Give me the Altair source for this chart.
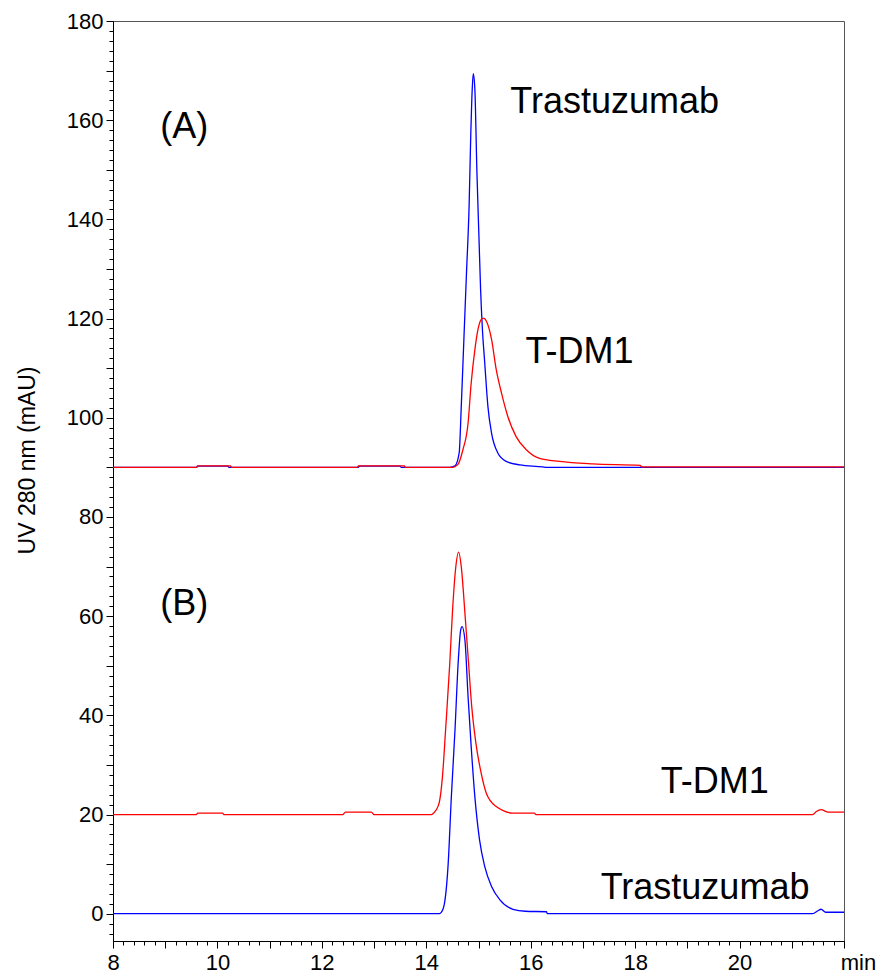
import altair as alt
import pandas as pd

# ---- data ----
a_tras_t = [8.0, 9.6, 9.62, 10.2, 10.22, 12.7, 12.72, 13.5, 13.52, 14.45, 14.55, 14.63, 14.67, 14.72, 14.77,
            14.82, 14.85, 14.88, 14.9, 14.93, 14.97, 15.01, 15.04, 15.075, 15.12, 15.18, 15.25, 15.37, 15.53,
            15.79, 16.23, 16.3, 22.0]
a_tras_v = [90, 90, 90.25, 90.25, 90, 90, 90.25, 90.25, 90, 90, 90.3, 92.9, 102.3, 115.8, 129.2,
            142.7, 156.2, 166.3, 169.4, 166.3, 149.4, 136, 125.9, 117.8, 111, 102.3, 96.9, 92.9, 91.2,
            90.5, 90.1, 90, 90]

a_tdm1_t = [8.0, 9.6, 9.62, 10.25, 10.27, 12.68, 12.7, 13.58, 13.6, 14.5, 14.6, 14.7, 14.8, 14.86, 14.93,
            14.99, 15.05, 15.1, 15.15, 15.25, 15.34, 15.44, 15.56, 15.72, 15.92, 16.17, 16.55, 17.19, 18.1,
            18.12, 22.0]
a_tdm1_v = [90, 90, 90.3, 90.3, 90, 90, 90.3, 90.3, 90, 90, 90.5, 93.5, 98.9, 107, 113.7,
            117.8, 119.8, 120.1, 119.5, 115.8, 109.7, 105, 100.3, 96.2, 93.5, 91.8, 91.2, 90.7, 90.4,
            90.1, 90.1]

b_tdm1_t = [8.0, 9.6, 9.62, 10.1, 10.12, 12.4, 12.45, 12.95, 13.0, 14.1, 14.13, 14.24, 14.31, 14.37, 14.45,
            14.5, 14.56, 14.62, 14.67, 14.74, 14.8, 14.87, 14.95, 15.05, 15.15, 15.34, 15.66, 16.07, 16.1,
            21.4, 21.47, 21.56, 21.7, 22.0]
b_tdm1_v = [20, 20, 20.3, 20.3, 20, 20, 20.5, 20.5, 20, 20, 20.2, 22.1, 27.7, 37.1, 50.5,
            60.6, 69.4, 72.9, 70, 60.6, 51.9, 41.8, 34.4, 28.4, 24.3, 21.6, 20.3, 20.3, 20,
            20, 20.6, 21.0, 20.5, 20.5]

b_tras_t = [8.0, 14.25, 14.29, 14.35, 14.42, 14.48, 14.55, 14.61, 14.66, 14.685, 14.74, 14.8, 14.86, 14.93,
            15.02, 15.12, 15.25, 15.41, 15.66, 15.9, 16.3, 16.32, 21.4, 21.5, 21.56, 21.65, 22.0]
b_tras_v = [0, 0, 0.3, 2.2, 10.2, 23.6, 37.1, 50.5, 57.3, 57.9, 55.2, 43.8, 33.7, 23.6,
            14.9, 9.5, 5.5, 2.8, 0.9, 0.5, 0.4, 0, 0, 0.6, 0.9, 0.3, 0.3]

label_text = ["(A)", "Trastuzumab", "T-DM1", "(B)", "T-DM1", "Trastuzumab"]
label_x = [8.906, 15.61, 15.90, 8.906, 18.49, 17.34]
label_y = [158.7, 163.7, 113.3, 62.5, 26.6, 5.2]

x_major = list(range(8, 23))
x_minor = [round(8 + 0.2 * i, 2) for i in range(0, 71)]
y_major = list(range(0, 181, 10))
y_minor = list(range(-4, 181, 2))

# ---- chart ----
XDOM = [8, 22]
YDOM = [-5.5, 180]
TICKFONT = "Liberation Sans"
TEXTFONT = "Liberation Sans"

xscale = alt.Scale(domain=XDOM, nice=False, zero=False)
yscale = alt.Scale(domain=YDOM, nice=False, zero=False)


def df(t, v):
    return pd.DataFrame({"t": t, "v": v})


x_axis_major = alt.Axis(
    orient="bottom", values=x_major, tickSize=7, tickColor="black", domainColor="black",
    labelExpr="datum.value % 2 == 0 && datum.value <= 20 ? datum.label : ''",
    labelFont=TICKFONT, labelFontSize=22, labelColor="black", labelPadding=4,
    grid=False, title="min", titleFont=TICKFONT, titleFontSize=22, titleFontWeight="normal",
    titleX=745, titleY=11, titleAlign="center", titleBaseline="top", titleColor="black",
    labelFlush=False, labelOverlap=False,
)
x_axis_minor = alt.Axis(
    orient="bottom", values=x_minor, tickSize=4, tickColor="black", labels=False,
    domain=False, grid=False, title=None,
)
y_axis_major = alt.Axis(
    orient="left", values=y_major, tickSize=7, tickColor="black", domainColor="black",
    labelExpr="datum.value % 20 == 0 ? datum.label : ''",
    labelFont=TICKFONT, labelFontSize=22, labelColor="black", labelPadding=3,
    grid=False, title="UV 280 nm (mAU)", titleFont=TEXTFONT, titleFontSize=23,
    titleFontWeight="normal", titleX=-86, titleY=439, titleAlign="center",
    titleBaseline="middle", titleAngle=270, titleColor="black", labelOverlap=False,
)
y_axis_minor = alt.Axis(
    orient="left", values=y_minor, tickSize=4, tickColor="black", labels=False,
    domain=False, grid=False, title=None,
)

LINE = dict(strokeWidth=1.3, interpolate="monotone")

l1 = alt.Chart(df(a_tras_t, a_tras_v)).mark_line(color="#0000ff", **LINE).encode(
    x=alt.X("t:Q", scale=xscale, axis=x_axis_major),
    y=alt.Y("v:Q", scale=yscale, axis=y_axis_major),
)
l2 = alt.Chart(df(a_tdm1_t, a_tdm1_v)).mark_line(color="#ff0000", **LINE).encode(
    x=alt.X("t:Q", scale=xscale, axis=x_axis_minor),
    y=alt.Y("v:Q", scale=yscale, axis=y_axis_minor),
)
l3 = alt.Chart(df(b_tdm1_t, b_tdm1_v)).mark_line(color="#ff0000", **LINE).encode(
    x=alt.X("t:Q", scale=xscale, axis=None),
    y=alt.Y("v:Q", scale=yscale, axis=None),
)
l4 = alt.Chart(df(b_tras_t, b_tras_v)).mark_line(color="#0000ff", **LINE).encode(
    x=alt.X("t:Q", scale=xscale, axis=None),
    y=alt.Y("v:Q", scale=yscale, axis=None),
)
labels = alt.Chart(pd.DataFrame({"label": label_text, "x": label_x, "y": label_y})).mark_text(
    align="left", baseline="middle", font=TEXTFONT, fontSize=36, color="black"
).encode(
    x=alt.X("x:Q", scale=xscale, axis=None),
    y=alt.Y("y:Q", scale=yscale, axis=None),
    text="label:N",
)

chart = alt.layer(l1, l2, l3, l4, labels).resolve_axis(
    x="independent", y="independent"
).properties(
    width=731, height=920,
    autosize=alt.AutoSizeParams(type="none"),
    padding={"left": 113, "top": 21, "right": 36, "bottom": 34},
    background="white",
).configure_view(stroke="#555555", strokeWidth=1)

chart.save("out.html", embed_options={"renderer": "svg", "actions": False})
